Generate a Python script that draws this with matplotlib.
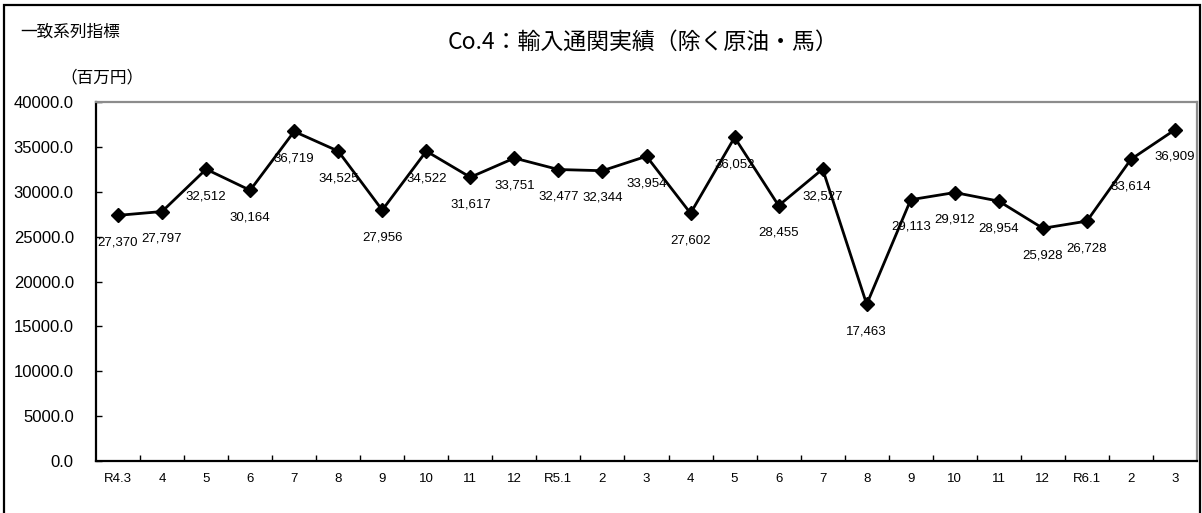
import matplotlib
matplotlib.use("Agg")
import matplotlib.pyplot as plt
from matplotlib import font_manager
from matplotlib.patches import Rectangle
from matplotlib.ticker import FixedLocator, FuncFormatter

# data
months = ["R4.3", "4", "5", "6", "7", "8", "9", "10", "11", "12",
          "R5.1", "2", "3", "4", "5", "6", "7", "8", "9", "10", "11", "12",
          "R6.1", "2", "3"]
imports = [27370, 27797, 32512, 30164, 36719, 34525, 27956, 34522, 31617,
           33751, 32477, 32344, 33954, 27602, 36052, 28455, 32527, 17463,
           29113, 29912, 28954, 25928, 26728, 33614, 36909]
yticks = [0, 5000, 10000, 15000, 20000, 25000, 30000, 35000, 40000]

jp = ["Noto Sans CJK JP", "DejaVu Sans"]
installed = {f.name for f in font_manager.fontManager.ttflist}
narrow = "Liberation Sans Narrow" if "Liberation Sans Narrow" in installed else "Liberation Sans"
num_size = 10.5 if narrow == "Liberation Sans Narrow" else 9.5

W, H = 1202, 513
fig = plt.figure(figsize=(W / 100, H / 100), dpi=100)
ax = fig.add_axes([96 / W, (H - 461) / H, (1197 - 96) / W, (461 - 102) / H])

x = list(range(len(months)))
ax.plot(x, imports, color="black", lw=2, marker="D", ms=7, zorder=3)

for xi, v in zip(x, imports):
    ax.annotate(f"{v:,}", (xi, v), xytext=(0, -19.5), textcoords="offset points",
                ha="center", va="center", fontsize=num_size, family=narrow)

ax.set_xlim(-0.5, len(months) - 0.5)
ax.set_ylim(0, 40000)

ax.set_xticks(x)
ax.set_xticklabels(months, family=narrow, fontsize=num_size)
ax.xaxis.set_minor_locator(FixedLocator([i + 0.5 for i in range(len(months) - 1)]))
ax.tick_params(axis="x", which="major", length=0, pad=9)
ax.tick_params(axis="x", which="minor", direction="in", length=4, width=1, color="black")

ax.set_yticks(yticks)
ax.yaxis.set_major_formatter(FuncFormatter(lambda v, p: f"{v:.1f}"))
ax.tick_params(axis="y", direction="in", length=4, width=1, pad=16)
for lab in ax.get_yticklabels():
    lab.set_family("Liberation Sans")
    lab.set_fontsize(12)

for side in ["left", "bottom"]:
    ax.spines[side].set_color("black")
    ax.spines[side].set_linewidth(1.6)
for side in ["top", "right"]:
    ax.spines[side].set_color("#8c8c8c")
    ax.spines[side].set_linewidth(1.6)

# outer frame of the chart
fig.patches.append(Rectangle((4 / W, -0.05), (1200 - 4) / W, (H - 5) / H + 0.05,
                             transform=fig.transFigure, fill=False,
                             edgecolor="black", lw=1.6))

fig.text(20 / W, 1 - 32 / H, "一致系列指標", family=jp, fontsize=12,
         ha="left", va="center")
fig.text(60 / W, 1 - 78 / H, "（百万円）", family=jp, fontsize=12,
         ha="left", va="center")
fig.text(643 / W, 1 - 42 / H, "Co.4：輸入通関実績（除く原油・馬）", family=jp,
         fontsize=16.5, ha="center", va="center")

fig.savefig("out.png", dpi=100)
